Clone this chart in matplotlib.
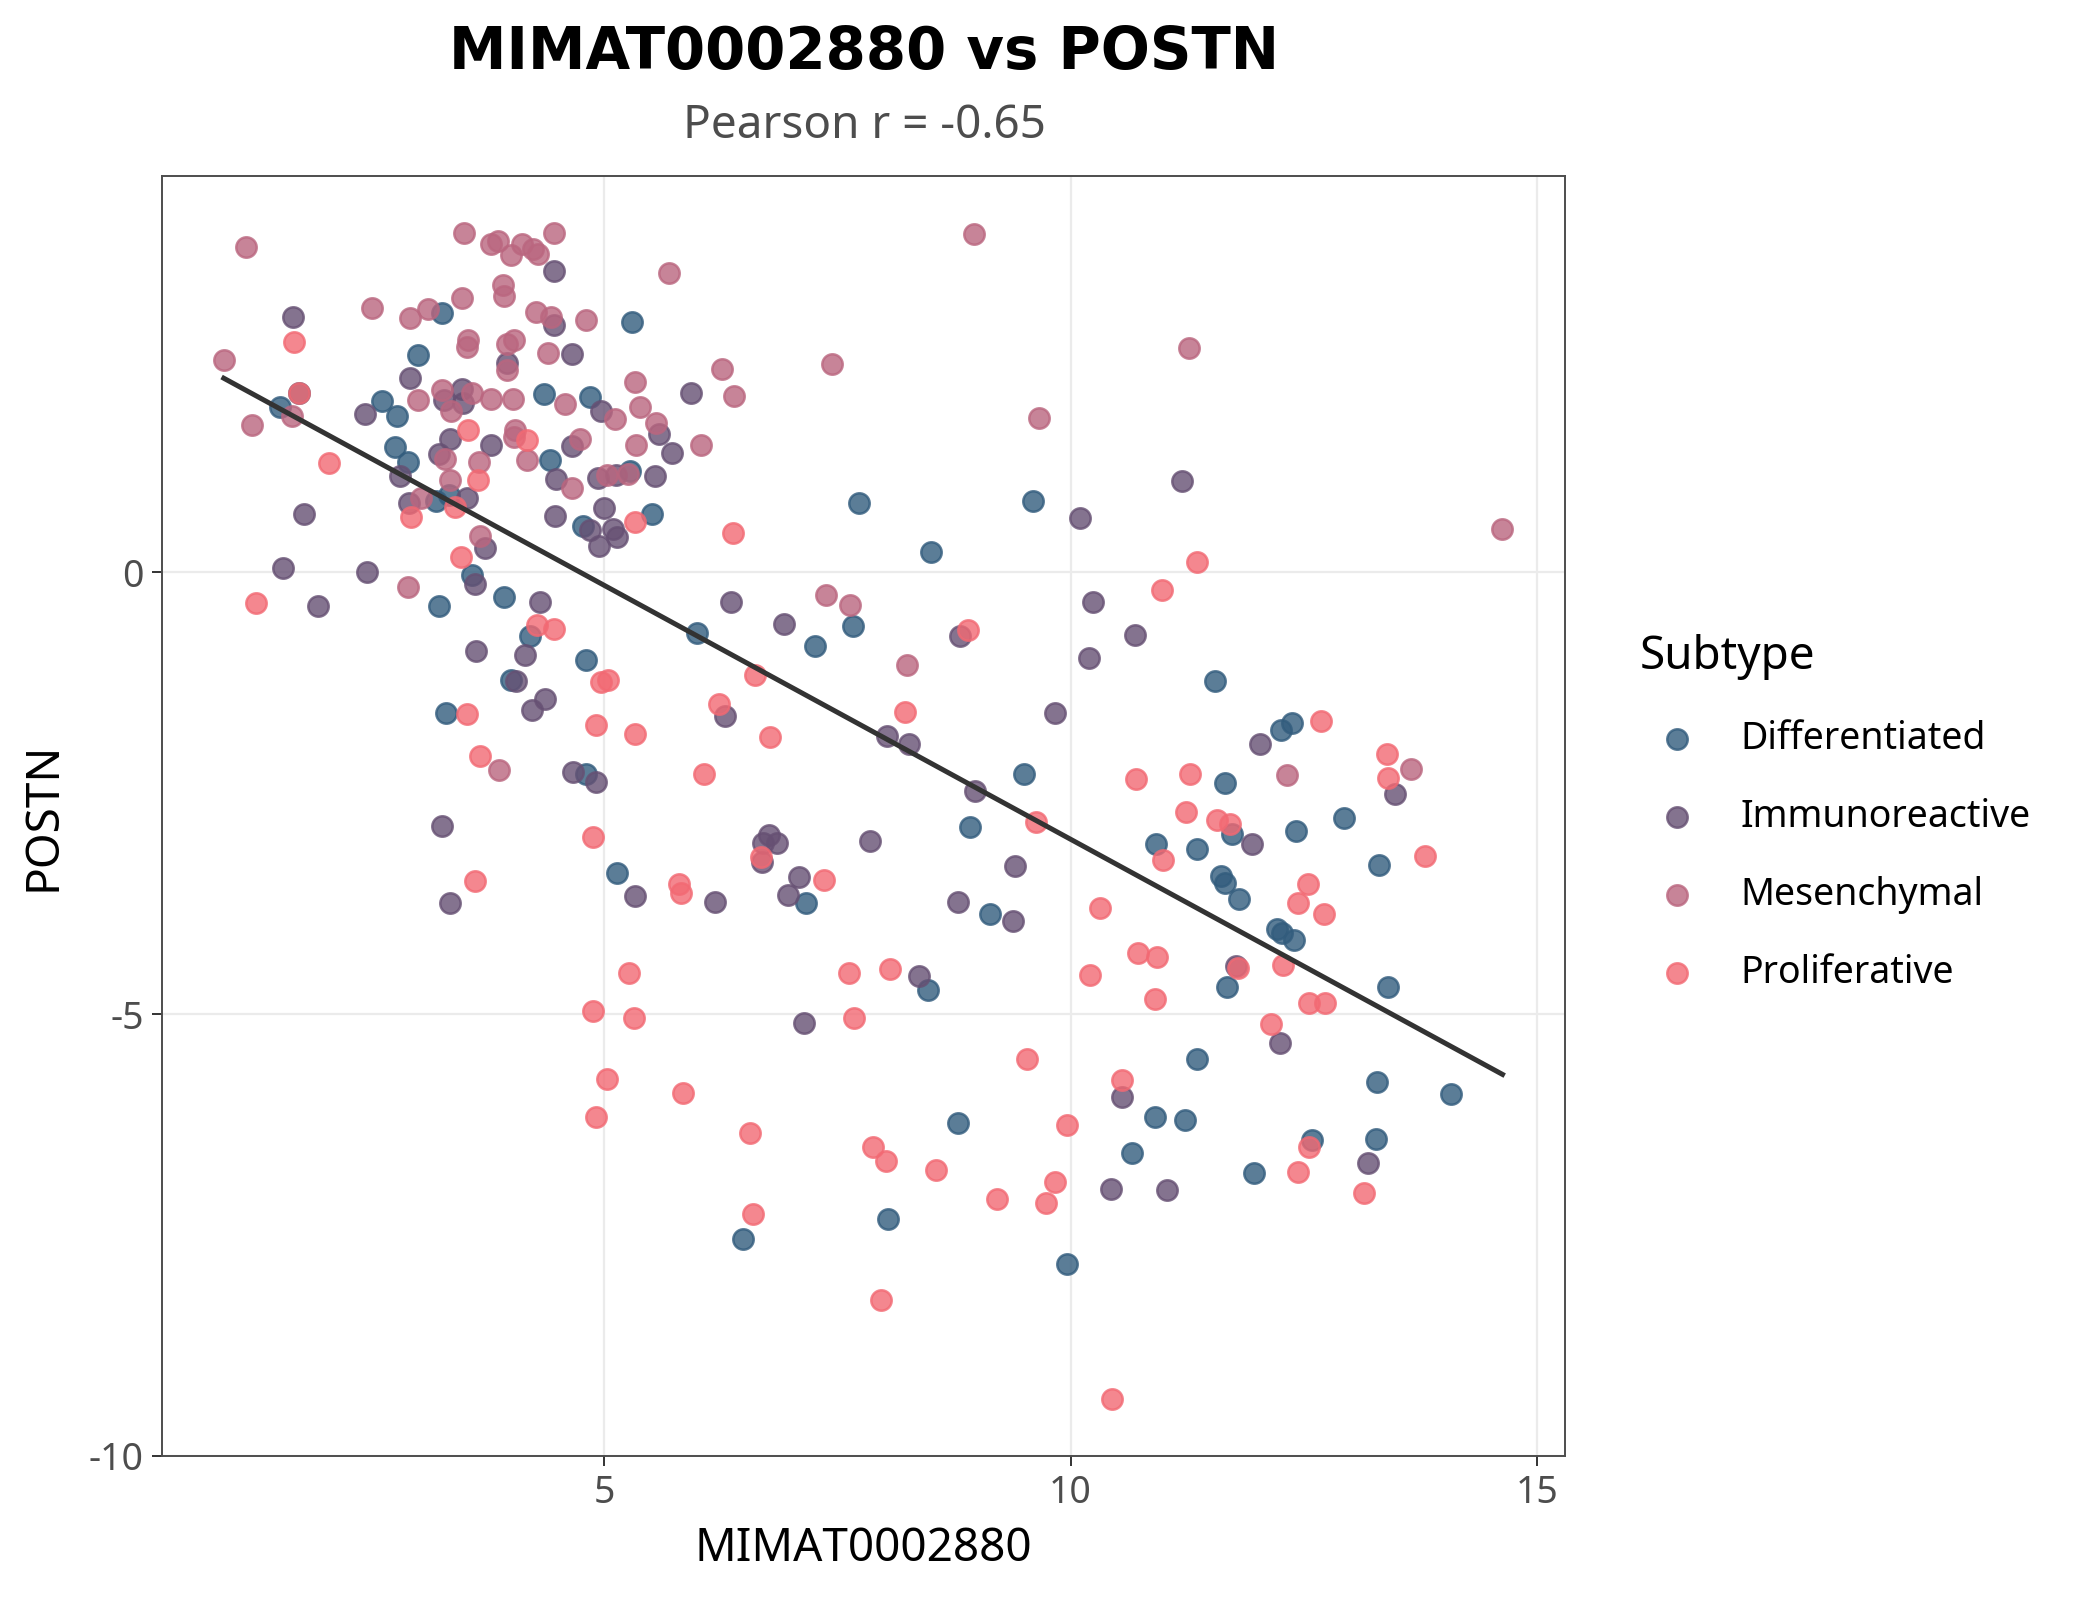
import numpy as np
import matplotlib
matplotlib.use("Agg")
import matplotlib.pyplot as plt

plt.rcParams["font.family"] = ["Noto Sans", "DejaVu Sans"]

subtypes = ["Differentiated", "Immunoreactive", "Mesenchymal", "Proliferative"]
colors = ["#325C7D", "#665073", "#BA667F", "#F26973"]

diff_x = [3.26, 5.30, 3.006, 1.73, 1.52, 2.62, 2.78, 4.36, 4.846, 2.756, 2.90, 4.417, 5.275, 3.20, 3.34,
          4.775, 3.58, 3.93, 3.23, 5.51, 7.73, 9.60, 8.50, 4.20, 4.81, 4.006, 3.30, 4.81, 5.14, 5.99,
          7.67, 7.26, 9.50, 8.92, 7.16, 9.135, 8.47, 11.55, 12.37, 12.26, 11.655, 11.725, 12.42, 12.93,
          10.92, 11.35, 13.31, 11.61, 11.66, 11.80, 12.21, 12.27, 12.40, 11.68, 13.40, 8.79, 6.49, 8.04,
          9.96, 11.35, 10.90, 11.23, 10.66, 11.97, 12.59, 13.28, 14.08, 13.27]
diff_y = [2.93, 2.83, 2.46, 2.02, 1.87, 1.94, 1.76, 2.01, 1.98, 1.41, 1.24, 1.27, 1.14, 0.80, 0.87,
          0.52, -0.03, -0.28, -0.39, 0.66, 0.78, 0.80, 0.23, -0.72, -1.00, -1.22, -1.60, -2.29, -3.40, -0.69,
          -0.61, -0.84, -2.28, -2.89, -3.74, -3.87, -4.73, -1.23, -1.71, -1.79, -2.39, -2.96, -2.93, -2.78,
          -3.08, -3.13, -3.31, -3.44, -3.52, -3.70, -4.04, -4.08, -4.16, -4.69, -4.70, -6.23, -7.54, -7.32,
          -7.83, -5.51, -6.16, -6.20, -6.57, -6.80, -6.42, -5.77, -5.90, -6.41]

immu_x = [4.457, 4.46, 1.665, 4.657, 3.953, 2.92, 2.434, 3.28, 3.477, 3.49, 4.964, 3.345, 3.23, 3.79,
          4.66, 2.816, 4.48, 4.936, 5.13, 2.91, 3.53, 4.47, 5.0, 4.846, 4.946, 5.09, 5.14, 1.78, 3.72,
          1.558, 2.46, 3.61, 4.31, 1.93, 5.926, 5.586, 5.73, 5.55, 10.10, 6.36, 10.24, 11.19, 3.63, 4.15,
          4.05, 4.37, 4.23, 4.67, 4.91, 3.256, 5.33, 3.345, 6.93, 8.81, 10.20, 6.29, 9.83, 8.03, 8.27,
          8.97, 6.77, 6.70, 6.85, 7.85, 6.69, 6.19, 7.09, 6.97, 9.40, 8.79, 9.38, 8.37, 7.14, 10.69,
          12.03, 13.48, 11.94, 11.77, 12.24, 10.55, 10.43, 11.03, 13.19]
immu_y = [3.41, 2.79, 2.89, 2.47, 2.36, 2.19, 1.79, 1.95, 2.07, 1.91, 1.82, 1.50, 1.34, 1.44,
          1.43, 1.09, 1.05, 1.06, 1.10, 0.78, 0.84, 0.63, 0.72, 0.48, 0.30, 0.49, 0.40, 0.66, 0.27,
          0.05, 0.00, -0.14, -0.34, -0.39, 2.02, 1.56, 1.35, 1.09, 0.61, -0.34, -0.34, 1.03, -0.89, -0.94,
          -1.23, -1.44, -1.56, -2.26, -2.37, -2.87, -3.67, -3.74, -0.59, -0.72, -0.97, -1.63, -1.59, -1.86, -1.94,
          -2.48, -2.98, -3.07, -3.07, -3.04, -3.28, -3.73, -3.45, -3.65, -3.32, -3.73, -3.95, -4.57, -5.10, -0.71,
          -1.94, -2.51, -3.08, -4.46, -5.33, -5.94, -6.98, -6.99, -6.68]

mes_x = [1.165, 3.495, 3.785, 3.857, 4.12, 4.006, 4.232, 4.29, 4.457, 3.917, 3.931, 3.48, 2.509, 2.916,
         3.106, 4.264, 4.425, 4.80, 0.922, 3.54, 3.53, 3.953, 4.03, 4.396, 3.96, 5.33, 1.655, 1.222,
         3.006, 3.256, 3.58, 3.36, 3.785, 4.02, 4.575, 5.118, 5.38, 3.29, 3.66, 4.04, 4.03, 4.17, 4.74,
         5.34, 3.35, 4.66, 5.025, 5.26, 3.04, 3.67, 2.90, 5.697, 8.96, 6.26, 7.44, 6.39, 5.56, 6.04,
         9.66, 7.38, 7.63, 11.27, 14.63, 3.87, 8.25, 12.32, 13.65]
mes_y = [3.68, 3.84, 3.71, 3.74, 3.71, 3.59, 3.65, 3.60, 3.83, 3.25, 3.12, 3.10, 2.99, 2.87,
         2.98, 2.94, 2.89, 2.85, 2.40, 2.63, 2.55, 2.58, 2.62, 2.48, 2.28, 2.15, 1.76, 1.66,
         1.95, 2.06, 2.03, 1.82, 1.96, 1.96, 1.90, 1.73, 1.87, 1.28, 1.25, 1.61, 1.53, 1.27, 1.51,
         1.44, 1.04, 0.95, 1.10, 1.11, 0.84, 0.41, -0.17, 3.38, 3.82, 2.30, 2.35, 1.99, 1.69, 1.44,
         1.74, -0.26, -0.37, 2.53, 0.49, -2.24, -1.05, -2.30, -2.23]

prol_x = [1.673, 1.73, 2.05, 3.54, 4.17, 3.65, 3.40, 2.93, 5.33, 3.46, 1.27, 6.38, 11.36, 10.98,
          4.275, 4.46, 4.97, 5.036, 3.53, 4.91, 5.33, 3.67, 4.875, 3.61, 5.27, 4.88, 5.32, 8.90, 6.62,
          6.23, 8.23, 6.78, 6.07, 9.63, 6.68, 5.80, 5.82, 7.355, 7.62, 8.06, 7.68, 10.21, 12.68, 10.70,
          11.28, 13.39, 13.40, 11.24, 11.565, 11.71, 10.99, 13.80, 12.54, 12.44, 12.72, 10.32, 10.72,
          10.93, 11.79, 12.28, 10.91, 12.56, 12.73, 12.15, 5.03, 4.91, 9.53, 5.85, 6.56, 9.96, 7.88,
          8.02, 8.56, 9.83, 9.21, 9.74, 6.59, 7.97, 10.55, 12.555, 12.44, 13.15, 10.44]
prol_y = [2.60, 2.03, 1.23, 1.61, 1.49, 1.04, 0.74, 0.62, 0.57, 0.17, -0.35, 0.44, 0.11, -0.20,
          -0.60, -0.64, -1.24, -1.22, -1.61, -1.73, -1.83, -2.08, -3.00, -3.49, -4.54, -4.97, -5.04, -0.66, -1.16,
          -1.49, -1.58, -1.87, -2.29, -2.83, -3.22, -3.53, -3.63, -3.48, -4.54, -4.49, -5.04, -4.56, -1.68, -2.34,
          -2.28, -2.06, -2.33, -2.72, -2.80, -2.85, -3.26, -3.21, -3.53, -3.74, -3.87, -3.80, -4.31,
          -4.36, -4.48, -4.45, -4.83, -4.88, -4.88, -5.11, -5.74, -6.16, -5.51, -5.89, -6.35, -6.26, -6.51,
          -6.66, -6.77, -6.90, -7.09, -7.14, -7.26, -8.23, -5.75, -6.51, -6.79, -7.02, -9.36]

groups = [(diff_x, diff_y), (immu_x, immu_y), (mes_x, mes_y), (prol_x, prol_y)]

fig = plt.figure(figsize=(10.4, 8), dpi=200)
ax = fig.add_axes([0.0779, 0.09, 0.6745, 0.80])

# grid first
ax.set_axisbelow(True)
ax.grid(True, color="#ebebeb", linewidth=0.8)

for (gx, gy), name, col in zip(groups, subtypes, colors):
    ax.scatter(gx, gy, s=54, color=col, alpha=0.8, linewidths=0.9, label=name, zorder=2)

# linear fit over all points
all_x = np.concatenate([np.array(g[0]) for g in groups])
all_y = np.concatenate([np.array(g[1]) for g in groups])
slope, intercept = np.polyfit(all_x, all_y, 1)
xs = np.array([all_x.min(), all_x.max()])
ax.plot(xs, slope * xs + intercept, color="#333333", linewidth=1.8, zorder=3)

ax.set_xlim(0.26, 15.30)
ax.set_ylim(-10.0, 4.48)
ax.set_xticks([5, 10, 15])
ax.set_yticks([-10, -5, 0])
ax.set_xticklabels(["5", "10", "15"])
ax.set_yticklabels(["-10", "-5", "0"])
ax.tick_params(axis="both", colors="#333333", labelcolor="#4d4d4d", labelsize=13.5,
               length=3.5, width=0.7, direction="out", pad=3)
for sp in ax.spines.values():
    sp.set_color("#4d4d4d")
    sp.set_linewidth(0.7)

ax.set_xlabel("MIMAT0002880", fontsize=16.5, labelpad=5)
ax.set_ylabel("POSTN", fontsize=16.5, labelpad=8)

fig.text(0.4155, 0.967, "MIMAT0002880 vs POSTN", fontsize=20.8, fontweight="bold",
         family="DejaVu Sans", ha="center", va="center")
fig.text(0.4155, 0.921, "Pearson r = -0.65", fontsize=16.5, color="#4d4d4d",
         ha="center", va="center")

leg = fig.legend(loc="upper left", bbox_to_anchor=(0.772, 0.625), frameon=False,
                 title="Subtype", fontsize=13.5, title_fontsize=16.5,
                 labelspacing=1.07, handletextpad=0.7, markerscale=1.0)
leg._legend_box.align = "left"

fig.savefig("out.png", dpi=200)
